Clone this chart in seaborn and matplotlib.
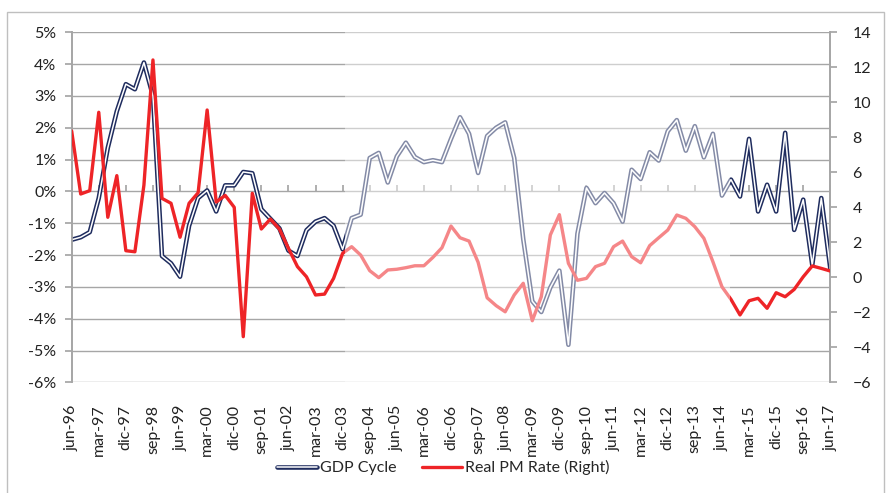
import numpy as np
import pandas as pd
import seaborn as sns
import matplotlib.pyplot as plt
from matplotlib.lines import Line2D
from matplotlib.patches import Rectangle
from matplotlib.ticker import FuncFormatter

# quarters jun-96 .. jun-17
months = ['mar', 'jun', 'sep', 'dic']
quarters = []
for year in range(1996, 2018):
    for m in months:
        quarters.append(f"{m}-{str(year)[2:]}")
quarters = quarters[1:quarters.index('jun-17') + 1]

# GDP cycle (%)
gdp_cycle = [-1.52, -1.44, -1.28, -0.21, 1.37, 2.52, 3.37, 3.21, 4.05, 3.00,
             -2.03, -2.26, -2.68, -1.08, -0.21, 0.03, -0.63, 0.19, 0.19, 0.61,
             0.57, -0.56, -0.86, -1.16, -1.86, -2.03, -1.22, -0.95, -0.84, -1.08,
             -1.82, -0.84, -0.73, 1.05, 1.21, 0.28, 1.10, 1.53, 1.08, 0.92,
             0.98, 0.92, 1.65, 2.33, 1.81, 0.58, 1.74, 2.00, 2.17, 1.05,
             -1.50, -3.45, -3.79, -3.02, -2.49, -4.82, -1.33, 0.11, -0.37, -0.05,
             -0.37, -0.95, 0.68, 0.39, 1.23, 0.97, 1.89, 2.24, 1.28, 2.05,
             1.07, 1.81, -0.13, 0.37, -0.16, 1.65, -0.63, 0.21, -0.63, 1.84,
             -1.21, -0.26, -2.31, -0.21, -2.42]

# real monetary policy rate (right axis)
real_pm_rate = [8.36, 4.76, 4.95, 9.43, 3.43, 5.81, 1.52, 1.46, 5.27, 12.42,
                4.51, 4.23, 2.29, 4.23, 4.83, 9.56, 4.30, 4.68, 4.00, -3.39,
                4.80, 2.76, 3.33, 2.76, 1.66, 0.61, 0.03, -1.01, -0.96, -0.06,
                1.37, 1.75, 1.27, 0.38, -0.02, 0.42, 0.46, 0.55, 0.66, 0.66,
                1.14, 1.69, 2.93, 2.26, 2.07, 0.86, -1.17, -1.62, -1.97, -1.01,
                -0.34, -2.48, -1.11, 2.42, 3.58, 0.80, -0.17, -0.06, 0.61, 0.80,
                1.75, 2.07, 1.18, 0.83, 1.81, 2.26, 2.70, 3.56, 3.37, 2.89,
                2.23, 0.89, -0.54, -1.26, -2.15, -1.34, -1.20, -1.77, -0.88, -1.11,
                -0.69, 0.03, 0.65, 0.51, 0.36]

df = pd.DataFrame({'t': np.arange(len(quarters)), 'quarter': quarters,
                   'gdp': gdp_cycle, 'rate': real_pm_rate})

navy = '#1F2C5E'
red = '#EE2427'
grid = '#A6A6A6'
shade_start, shade_end = 30.3, 72.9  # faded window (dic-03 .. sep-14)

sns.set_theme(style='white')
plt.rcParams['font.family'] = ['Lato', 'DejaVu Sans']

fig = plt.figure(figsize=(8.87, 4.93), dpi=100)
ax = fig.add_axes([0.0808, 0.2245, 0.8553, 0.71])
ax2 = ax.twinx()

# GDP cycle: double line (navy outline, white core)
sns.lineplot(data=df, x='t', y='gdp', ax=ax, color=navy, linewidth=3.3, zorder=3)
sns.lineplot(data=df, x='t', y='gdp', ax=ax, color='white', linewidth=1.1, zorder=4)
sns.lineplot(data=df, x='t', y='rate', ax=ax2, color=red, linewidth=2.4, zorder=3)

ax.set_ylim(-6, 5)
ax.set_yticks(np.arange(-6, 6, 1))
ax.yaxis.set_major_formatter(FuncFormatter(lambda v, p: f"{v:.0f}%"))
ax2.set_ylim(-6, 14)
ax2.set_yticks(np.arange(-6, 15, 2))
ax.set_xlim(0, len(quarters) - 1)
ax.set_xticks(df['t'][::3])
ax.set_xticklabels(df['quarter'][::3], rotation=90)
ax.set_xlabel('')
ax.set_ylabel('')
ax2.set_ylabel('')

ax.grid(axis='y', color=grid, linewidth=1.0)
ax.set_axisbelow(True)
for a in (ax, ax2):
    a.spines['top'].set_visible(False)
    a.spines['bottom'].set_visible(False)
    a.spines['left'].set_color(grid)
    a.spines['right'].set_color(grid)
ax.tick_params(axis='y', left=True, length=5, color=grid, labelsize=11.5, pad=6,
               labelcolor='#222222')
ax2.tick_params(axis='y', right=True, length=5, color=grid, labelsize=11.5, pad=11,
                labelcolor='#222222')
ax.tick_params(axis='x', bottom=False, labelsize=11.5, pad=10, labelcolor='#222222')

# category ticks sitting on the 0% line
sec = ax.secondary_xaxis(6 / 11)
sec.set_xticks(df['t'][::3])
sec.tick_params(axis='x', direction='out', length=4, color=grid, labelbottom=False,
                labeltop=False)
sec.spines['bottom'].set_visible(False)
sec.spines['top'].set_visible(False)

# faded window
ax2.axvspan(shade_start, shade_end, color='white', alpha=0.45, zorder=10, lw=0)

# legend
gdp_handle = (Line2D([], [], color=navy, lw=3.3), Line2D([], [], color='white', lw=1.1))
rate_handle = Line2D([], [], color=red, lw=2.4)
fig.legend([gdp_handle, rate_handle], ['GDP Cycle', 'Real PM Rate (Right)'],
           loc='center', bbox_to_anchor=(0.5, 0.051), ncol=2, frameon=False,
           fontsize=11.5, handlelength=2.5, handletextpad=0.2, columnspacing=1.6)

# chart border
fig.patches.append(Rectangle((7 / 887, -0.01), 877 / 887, 1 - 12 / 493 + 0.01,
                             transform=fig.transFigure, fill=False,
                             edgecolor='#BFBFBF', linewidth=1.0))

fig.savefig('out.png', dpi=100)
